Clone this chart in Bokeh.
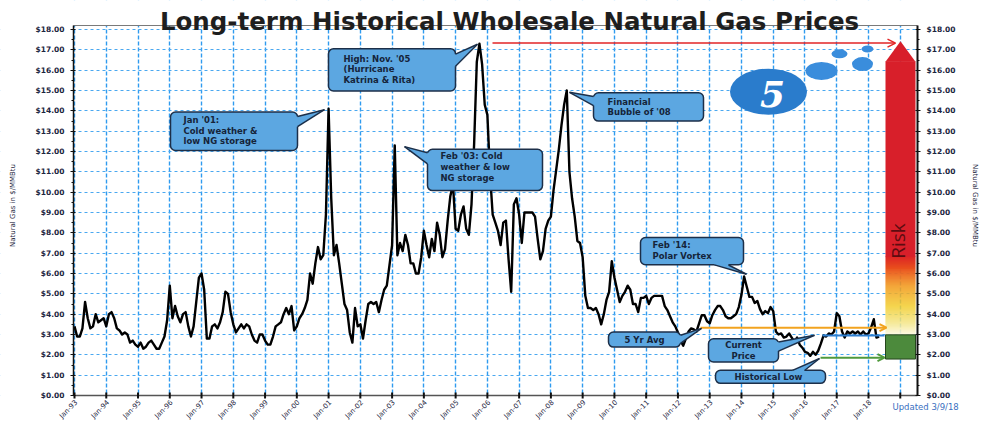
import math
from bokeh.plotting import figure
from bokeh.models import (Range1d, FixedTicker, NumeralTickFormatter, LinearAxis, Label,
                          BoxAnnotation, Arrow, OpenHead)
from bokeh.embed import file_html
from bokeh.resources import INLINE

# ---------------- data (monthly $/MMBtu) ----------------
FIRST_YEAR = 1993
prices_1993_1997 = [
    3.4, 2.9, 2.9, 3.3, 4.6, 3.8, 3.3, 3.4, 4.0, 3.6, 3.7, 3.8,
    3.4, 4.0, 4.1, 3.8, 3.3, 3.2, 3.0, 3.1, 3.0, 2.6, 2.7, 2.5,
    2.4, 2.6, 2.3, 2.4, 2.6, 2.7, 2.5, 2.3, 2.3, 2.6, 2.9, 3.7,
    5.4, 3.8, 4.4, 3.9, 3.6, 4.0, 4.1, 3.4, 2.9, 3.4, 4.6, 5.8,
    6.0, 5.2, 2.8, 2.8, 3.4, 3.5, 3.3, 3.6, 4.1, 5.1, 5.0, 4.1]
prices_1998_2002 = [
    3.5, 3.1, 3.3, 3.5, 3.3, 3.5, 3.4, 3.0, 2.7, 2.6, 3.0, 3.0,
    2.7, 2.5, 2.5, 2.9, 3.4, 3.5, 3.6, 4.0, 4.3, 4.0, 4.4, 3.2,
    3.4, 3.8, 4.0, 4.3, 4.7, 6.0, 5.5, 6.5, 7.3, 6.7, 6.9, 8.9,
    14.1, 9.7, 6.9, 7.4, 6.5, 5.5, 4.5, 4.2, 3.1, 2.6, 4.3, 3.4,
    3.5, 2.8, 3.7, 4.5, 4.6, 4.5, 4.6, 4.1, 4.7, 5.2, 5.4, 6.4]
prices_2003_2007 = [
    7.4, 12.3, 6.9, 7.5, 7.1, 7.9, 7.4, 6.5, 6.5, 6.0, 6.0, 6.8,
    8.1, 7.4, 6.8, 7.7, 7.1, 8.5, 7.9, 6.8, 7.2, 8.6, 9.8, 10.4,
    8.2, 8.1, 8.9, 9.3, 8.2, 7.9, 9.4, 12.4, 16.4, 17.3, 16.3, 14.3,
    13.8, 10.9, 8.9, 8.5, 8.1, 7.4, 8.5, 8.6, 6.7, 5.1, 9.4, 9.7,
    8.9, 7.5, 9.0, 9.0, 9.0, 9.0, 8.8, 7.7, 6.7, 7.1, 8.2, 8.6]
prices_2008_2012 = [
    8.8, 10.1, 11.1, 12.1, 13.3, 14.3, 15.0, 11.0, 9.7, 8.8, 7.6, 7.5,
    6.8, 4.9, 4.3, 4.3, 4.2, 4.3, 4.0, 3.5, 4.0, 4.7, 5.1, 6.6,
    5.8, 5.2, 4.6, 4.9, 5.1, 5.4, 5.2, 4.5, 4.5, 4.1, 4.8, 4.8,
    4.9, 4.5, 4.8, 4.9, 4.9, 4.9, 4.9, 4.4, 4.2, 3.9, 3.6, 3.4,
    3.1, 2.7, 2.45, 2.8, 3.15, 3.3, 3.25, 3.15, 3.55, 3.95, 3.95, 3.65]
prices_2013_2018 = [
    3.55, 3.95, 4.2, 4.4, 4.4, 4.2, 3.9, 3.8, 3.8, 3.9, 4.0, 4.35,
    4.95, 5.85, 5.35, 4.85, 4.85, 4.55, 4.65, 4.25, 4.0, 4.15, 4.05, 4.35,
    4.15, 3.15, 3.0, 3.05, 2.85, 2.9, 3.05, 2.85, 2.65, 2.85, 2.5, 2.35,
    2.15, 2.1, 1.95, 2.15, 2.0, 2.2, 2.55, 2.95, 2.9, 3.05, 3.0, 3.15,
    4.05, 3.9, 3.15, 2.85, 3.15, 3.05, 3.15, 3.05, 3.15, 3.0, 3.15, 3.0,
    3.05, 3.35, 3.75, 2.85, 2.9]

YEAR_TICKS = list(range(1993, 2020))
YEAR_LABELS = ["Jan-93", "Jan-94", "Jan-95", "Jan-96", "Jan-97", "Jan-98", "Jan-99",
               "Jan-00", "Jan-01", "Jan-02", "Jan-03", "Jan-04", "Jan-05", "Jan-06",
               "Jan-07", "Jan-08", "Jan-09", "Jan-10", "Jan-11", "Jan-12", "Jan-13",
               "Jan-14", "Jan-15", "Jan-16", "Jan-17", "Jan-18", ""]
PRICE_TICKS = list(range(0, 19))

TITLE = "Long-term Historical Wholesale Natural Gas Prices"
AXIS_TITLE = "Natural Gas in $/MMBtu"
UPDATED = "Updated 3/9/18"

prices = prices_1993_1997 + prices_1998_2002 + prices_2003_2007 + prices_2008_2012 + prices_2013_2018
months = [FIRST_YEAR + i / 12.0 for i in range(len(prices))]

# ---------------- helpers: page-pixel -> data positions for decorations ----------------
def X(px):
    return 1993 + (px - 74) / 31.76

def Y(py, px=480):      # positions read locally from the (slightly tilted) reference
    return (399.0 - 0.0071 * (px - 73) - py) / 20.15

W, H = 981, 423
PLOT_L, PLOT_R, PLOT_TOP, AXIS_Y = 73, 917, 25, 395
PX_PER_USD = (AXIS_Y - 29) / 18.0
def Ys(py):
    return (AXIS_Y - py) / PX_PER_USD
Y_TOP = Ys(PLOT_TOP)

CALLOUT = "#5ca7e1"
BORDER = "#1c2f49"
TXT = "#15243a"
NAVY = "#1c2540"

p = figure(width=W, height=H, title=None,
           x_range=Range1d(X(0), X(W)), y_range=Range1d(Ys(H), Ys(0)),
           output_backend="svg", toolbar_location=None,
           min_border_left=0, min_border_right=0, min_border_top=0, min_border_bottom=0,
           background_fill_color="white", border_fill_color="white")
p.outline_line_color = None

# ---- axes ----
p.xaxis.visible = False
xt = FixedTicker(ticks=YEAR_TICKS, minor_ticks=[])
p.xgrid.ticker = xt

yt = FixedTicker(ticks=PRICE_TICKS, minor_ticks=[i + 0.5 for i in PRICE_TICKS[:-1]])
fmt = NumeralTickFormatter(format="$0.00")

def style_y(ax, lw):
    ax.ticker = yt
    ax.formatter = fmt
    ax.bounds = (0, Y_TOP)
    ax.major_label_text_font = "DejaVu Sans"
    ax.major_label_text_font_style = "bold"
    ax.major_label_text_font_size = "7.5px"
    ax.major_label_text_color = NAVY
    ax.major_label_standoff = 6
    ax.axis_line_color = "#111111"
    ax.axis_line_width = lw
    ax.major_tick_line_color = "#111111"
    ax.major_tick_in = 2
    ax.major_tick_out = 3
    ax.minor_tick_line_color = "#111111"
    ax.minor_tick_in = 0
    ax.minor_tick_out = 2

left = p.yaxis[0]
style_y(left, 1.5)
left.fixed_location = X(PLOT_L)
p.ygrid.ticker = yt

right = LinearAxis(fixed_location=X(PLOT_R))
style_y(right, 2)
p.add_layout(right, "right")

p.xgrid.grid_line_color = "#2f9bef"
p.xgrid.grid_line_dash = "4 2"
p.xgrid.grid_line_width = 1.4
p.ygrid.grid_line_color = "#4aa8f0"
p.ygrid.grid_line_dash = "3 3"
p.ygrid.grid_line_width = 1.2

# white margins that hide the grid outside the plotting area
p.quad(left=[X(-5), X(PLOT_R), X(-5), X(-5)],
       right=[X(PLOT_L), X(W + 5), X(W + 5), X(W + 5)],
       bottom=[Ys(H + 5), Ys(H + 5), Ys(H + 5), Y_TOP],
       top=[Ys(-5), Ys(-5), 0, Ys(-5)],
       fill_color="white", line_color=None)
p.segment(x0=[X(PLOT_L)], y0=[0], x1=[X(PLOT_R)], y1=[0], line_color="#555555", line_width=1.5)
tk = 3 / PX_PER_USD
p.segment(x0=YEAR_TICKS, y0=[-tk] * len(YEAR_TICKS), x1=YEAR_TICKS, y1=[tk] * len(YEAR_TICKS),
          line_color="#111111", line_width=2)
p.segment(x0=[X(PLOT_L)], y0=[Y_TOP], x1=[X(PLOT_R)], y1=[Y_TOP],
          line_color="#7a7a7a", line_width=1)

for yr, lab in zip(YEAR_TICKS, YEAR_LABELS):
    if lab:
        p.add_layout(Label(x=yr, y=Ys(AXIS_Y + 6), text=lab, angle=math.pi / 4,
                           x_offset=2, text_align="right", text_baseline="middle",
                           text_font="DejaVu Sans", text_font_size="7px",
                           text_color=NAVY))

# axis titles and chart title
p.add_layout(Label(x=X(12), y=Ys(205), text=AXIS_TITLE, angle=math.pi / 2,
                   text_align="center", text_baseline="middle", text_font="DejaVu Sans",
                   text_font_size="7px", text_color=NAVY))
p.add_layout(Label(x=X(974), y=Ys(205), text=AXIS_TITLE, angle=-math.pi / 2,
                   text_align="center", text_baseline="middle", text_font="DejaVu Sans",
                   text_font_size="7px", text_color=NAVY))
p.add_layout(Label(x=X(509), y=Ys(21), text=TITLE, text_align="center",
                   text_baseline="alphabetic", text_font="DejaVu Sans", text_font_style="bold",
                   text_font_size="24.5px", text_color="#1e1e1e"))

# ---- price line ----
p.line(months, prices, line_color="black", line_width=2.4, line_join="round")

# ---- risk bar ----
def hex2rgb(h):
    h = h.lstrip("#")
    return tuple(int(h[i:i + 2], 16) for i in (0, 2, 4))

def lerp(c1, c2, t):
    a, b = hex2rgb(c1), hex2rgb(c2)
    return "#%02x%02x%02x" % tuple(int(round(a[i] + (b[i] - a[i]) * t)) for i in range(3))

stops = [(333, "#fbf8e0"), (322, "#f4e68a"), (305, "#f2cd2c"), (285, "#f29a20"),
         (268, "#e9521d"), (255, "#dc2026")]
bl, br = X(885), X(915)
bots, tops, cols = [], [], []
for k in range(len(stops) - 1):
    (p0, c0), (p1, c1) = stops[k], stops[k + 1]
    n = p0 - p1
    for j in range(n):
        bots.append(Y(p0 - j, 900))
        tops.append(Y(p0 - j - 1.2, 900))
        cols.append(lerp(c0, c1, j / n))
p.quad(left=bl, right=br, bottom=bots, top=tops, fill_color=cols, line_color=None)
p.quad(left=bl, right=br, bottom=Y(255.5, 900), top=Y(62, 900), fill_color="#d81f2a", line_color=None)
p.patch([bl, X(900), br], [Y(62.5, 900), Y(42, 900), Y(62.5, 900)], fill_color="#d81f2a", line_color=None)
p.quad(left=bl, right=br, bottom=Y(357, 900), top=Y(333, 900), fill_color="#4c8a3c",
       line_color="#25461d", line_width=1)

p.add_layout(Label(x=X(897), y=Y(240, 900), text="Risk", angle=math.pi / 2,
                   text_align="center", text_baseline="middle", text_font="Open Sans",
                   text_font_size="19px", text_color="#5c0c10"))

# ---- logo ----
p.ellipse(x=X(768), y=Y(93, 768), width=77, height=46, width_units="screen",
          height_units="screen", fill_color="#2a7ccc", line_color=None)
for (cx, cy, w, h) in [(821, 72, 32, 18), (839, 55, 16, 9), (862, 65, 21, 14), (867, 50, 12, 7)]:
    p.ellipse(x=X(cx), y=Y(cy, cx), width=w, height=h, width_units="screen",
              height_units="screen", fill_color="#3a8ddc", line_color=None)
p.add_layout(Label(x=X(772), y=Y(95, 772), text="5", text_font="DejaVu Serif",
                   text_font_style="bold italic", text_font_size="36px", text_color="white",
                   text_align="center", text_baseline="middle"))

# ---- arrows / level lines ----
p.add_layout(Arrow(end=OpenHead(size=8, line_color="#e22426", line_width=1.5),
                   x_start=X(492), y_start=17.33, x_end=X(895), y_end=17.33,
                   line_color="#e22426", line_width=1.5))
p.add_layout(Arrow(end=OpenHead(size=7, line_color="#f2a31f", line_width=2),
                   x_start=X(700), y_start=Y(326, 883), x_end=X(886), y_end=Y(326, 883),
                   line_color="#f2a31f", line_width=2))
p.add_layout(Arrow(end=None, x_start=X(822), y_start=Y(334, 850), x_end=X(884),
                   y_end=Y(334, 850), line_color="#2f7fd0", line_width=2.2))
p.add_layout(Arrow(end=OpenHead(size=7, line_color="#4f9a3c", line_width=2),
                   x_start=X(820), y_start=Y(356, 850), x_end=X(884), y_end=Y(356, 850),
                   line_color="#4f9a3c", line_width=2))

# ---- callouts ----
CALLOUTS = [
    dict(box=(170, 117, 297, 155), lines=["Jan '01:", "Cold weather &", "low NG storage"],
         tx=183, ty=[125, 136, 146], align="left",
         ptr=((297, 121), (297, 131), (324, 114)), inward=(-3, 0)),
    dict(box=(328, 53, 455, 95), lines=["High: Nov. '05", "(Hurricane", "Katrina & Rita)"],
         tx=343, ty=[64, 74, 84], align="left",
         ptr=((455, 58), (455, 70), (477, 48)), inward=(-3, 0)),
    dict(box=(427, 152, 542, 193), lines=["Feb '03: Cold", "weather & low", "NG storage"],
         tx=440, ty=[159, 170, 181], align="left",
         ptr=((427, 156), (427, 167), (404, 150)), inward=(3, 0)),
    dict(box=(593, 95, 703, 123), lines=["Financial", "Bubble of '08"],
         tx=607, ty=[104, 114], align="left",
         ptr=((593, 99), (593, 108), (569, 95)), inward=(3, 0)),
    dict(box=(640, 238, 743, 265), lines=["Feb '14:", "Polar Vortex"],
         tx=652, ty=[246, 257], align="left",
         ptr=((714, 265), (728, 265), (746, 274)), inward=(0, -3)),
    dict(box=(608, 332, 680, 347), lines=["5 Yr Avg"],
         tx=644, ty=[339.5], align="center",
         ptr=((680, 335), (680, 343), (701, 328)), inward=(-3, 0)),
    dict(box=(708, 338, 778, 361), lines=["Current", "Price"],
         tx=743, ty=[344, 355], align="center",
         ptr=((778, 341), (778, 350), (814, 334)), inward=(-3, 0)),
    dict(box=(715, 369, 825, 382), lines=["Historical Low"],
         tx=768, ty=[375.5], align="center",
         ptr=((792, 369), (804, 369), (819, 357)), inward=(0, 3)),
]

for c in CALLOUTS:
    l, t, r, b = c["box"]
    cx = (l + r) / 2
    p.add_layout(BoxAnnotation(left=X(l), right=X(r), top=Y(t, cx), bottom=Y(b, cx),
                               fill_color=CALLOUT, fill_alpha=1.0, line_color=BORDER,
                               line_alpha=1.0, line_width=1.5, border_radius=5))
for c in CALLOUTS:
    for txt, ty in zip(c["lines"], c["ty"]):
        p.add_layout(Label(x=X(c["tx"]), y=Y(ty, c["tx"]), text=txt, text_align=c["align"],
                           text_baseline="middle", text_font="DejaVu Sans",
                           text_font_style="bold", text_font_size="8.5px", text_color=TXT))
for c in CALLOUTS:
    (ax, ay), (bx, by), (tx_, ty_) = c["ptr"]
    dx, dy = c["inward"]
    pts = [(ax + dx, ay + dy), (ax, ay), (tx_, ty_), (bx, by), (bx + dx, by + dy)]
    p.patch([X(q[0]) for q in pts], [Y(q[1], q[0]) for q in pts], fill_color=CALLOUT,
            line_color=None, level="overlay")
    p.multi_line([[X(ax), X(tx_)], [X(bx), X(tx_)]],
                 [[Y(ay, ax), Y(ty_, tx_)], [Y(by, bx), Y(ty_, tx_)]],
                 line_color=BORDER, line_width=1.5, level="overlay")

# ---- note under the right end ----
p.add_layout(Label(x=X(892), y=Ys(406), text=UPDATED, text_align="left",
                   text_baseline="middle", text_font="DejaVu Sans",
                   text_font_size="8.5px", text_color="#3a6fc0"))

open("out.html", "w").write(file_html(p, INLINE))
